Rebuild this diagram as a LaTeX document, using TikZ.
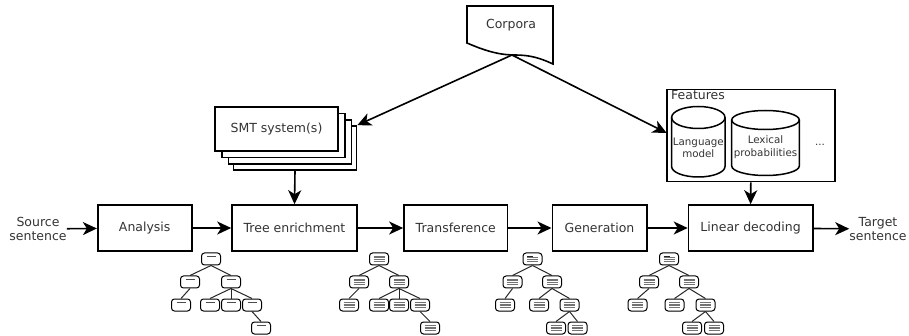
\documentclass[tikz,border=0pt]{standalone}
\usepackage{fontspec}
\setmainfont{DejaVu Sans}
\usetikzlibrary{arrows.meta}

\tikzset{
  box/.style={draw, line width=1.6pt, minimum height=46pt, inner sep=0pt, font=\fontsize{12.5}{14}\selectfont, text=black!80},
  smtbox/.style={draw, line width=1.6pt, fill=white, minimum width=123pt, minimum height=44pt, inner sep=0pt},
  lbl/.style={align=center, inner sep=0pt, font=\fontsize{12.5}{14.5}\selectfont, text=black!80},
  small/.style={align=center, inner sep=0pt, font=\fontsize{10.3}{12.5}\selectfont, text=black!80},
  arr/.style={line width=1.6pt, -{Stealth[length=14pt,width=13pt,inset=4pt]}},
  tedge/.style={line width=1pt, black!85},
  tnode/.style={draw, line width=1pt, rounded corners=3pt, minimum width=19pt, minimum height=12pt, inner sep=0pt, fill=white},
  tblank/.style={tnode, path picture={
    \draw[line width=0.9pt,black!70] ([xshift=5pt,yshift=-3pt]path picture bounding box.north west) -- ([xshift=-5pt,yshift=-3pt]path picture bounding box.north east);}},
  tfull/.style={tnode, path picture={
    \foreach \d in {3.2,5,6.8,8.6}
      \draw[line width=1pt,black!55] ([xshift=4pt,yshift=-\d pt]path picture bounding box.north west) -- ([xshift=-4pt,yshift=-\d pt]path picture bounding box.north east);}},
  tpart/.style={tnode, path picture={
    \draw[line width=1.3pt,black!85] ([xshift=4pt,yshift=-3.2pt]path picture bounding box.north west) -- ([xshift=-9pt,yshift=-3.2pt]path picture bounding box.north east);
    \foreach \d in {5,6.8,8.6}
      \draw[line width=1pt,black!55] ([xshift=4pt,yshift=-\d pt]path picture bounding box.north west) -- ([xshift=-4pt,yshift=-\d pt]path picture bounding box.north east);}}
}

\begin{document}
\begin{tikzpicture}[x=1pt,y=-1pt]
\useasboundingbox (0,0) rectangle (909,336);

\node[lbl] (src) at (38,229) {Source\\sentence};
\node[box, minimum width=94pt] (ana) at (144.7,228) {Analysis};
\node[box, minimum width=125pt] (tre) at (294.5,228) {Tree enrichment};
\node[box, minimum width=103.7pt] (trans) at (455.8,228) {Transference};
\node[box, minimum width=94.4pt] (gen) at (599.5,228) {Generation};
\node[box, minimum width=124.2pt] (lin) at (750.6,228) {Linear decoding};
\node[lbl] (trg) at (878,229) {Target\\sentence};

\draw[arr] (src) -- (ana);
\draw[arr] (ana) -- (tre);
\draw[arr] (tre) -- (trans);
\draw[arr] (trans) -- (gen);
\draw[arr] (gen) -- (lin);
\draw[arr] (lin) -- (trg);

\node[smtbox] (smt4) at (295,148) {};
\node[smtbox] (smt3) at (289.8,141.8) {};
\node[smtbox] (smt2) at (283.2,135.5) {};
\node[smtbox, font=\fontsize{12.5}{14}\selectfont, text=black!80] (smt1) at (276.5,128.8) {SMT system(s)};
\draw[arr] (smt4.south) -- (tre.north);

\draw[line width=1.6pt] (467,6) -- (553,6) -- (553,64)
  .. controls (540,58) and (530,55) .. (515,55)
  .. controls (503,55) and (490,53) .. (467,43) -- cycle;
\node[lbl] (corp) at (511,25) {Corpora};
\coordinate (cp) at (512,55);

\node[draw, line width=1.8pt, minimum width=168pt, minimum height=92pt, inner sep=0pt] (feat) at (750.8,135.5) {};
\node[lbl] (featlbl) at (698,95.5) {Features};
\coordinate (fin) at (666.7,133);

\draw[line width=1.5pt] (698.3,117.5) ellipse [x radius=26.7pt, y radius=11pt];
\draw[line width=1.5pt] (671.6,117.5) -- (671.6,166.5) arc[start angle=180, end angle=360, x radius=26.7pt, y radius=10.5pt] -- (725,117.5);
\draw[line width=1.5pt] (765.5,120) ellipse [x radius=33.8pt, y radius=9.5pt];
\draw[line width=1.5pt] (731.7,120) -- (731.7,166) arc[start angle=180, end angle=360, x radius=33.8pt, y radius=9.5pt] -- (799.3,120);
\node[small] (lm) at (698.3,148) {Language\\model};
\node[small] (lp) at (765.5,147) {Lexical\\probabilities};
\node[small] (more) at (820,145) {...};

\draw[arr] (cp) -- (smt4.north east);
\draw[arr] (cp) -- (fin);
\draw[arr] (feat.south) -- (lin.north);

\node[tblank] (t1r) at (211,259) {};
\node[tblank] (t1a) at (190,282) {};
\node[tblank] (t1b) at (231,282) {};
\node[tblank] (t1aa) at (181,305) {};
\node[tblank] (t1ba) at (210,305) {};
\node[tblank] (t1bb) at (231,305) {};
\node[tblank] (t1bc) at (252,305) {};
\node[tblank] (t1bca) at (261,328) {};
\draw[tedge] (t1r.south) -- (t1a.north);
\draw[tedge] (t1r.south) -- (t1b.north);
\draw[tedge] (t1a.south) -- (t1aa.north);
\draw[tedge] (t1b.south) -- (t1ba.north);
\draw[tedge] (t1b.south) -- (t1bb.north);
\draw[tedge] (t1b.south) -- (t1bc.north);
\draw[tedge] (t1bc.south) -- (t1bca.north);

\node[tfull] (t2r) at (379,259) {};
\node[tfull] (t2a) at (359,282) {};
\node[tfull] (t2b) at (399,282) {};
\node[tfull] (t2aa) at (349,305) {};
\node[tfull] (t2ba) at (379,305) {};
\node[tfull] (t2bb) at (399,305) {};
\node[tfull] (t2bc) at (420,305) {};
\node[tfull] (t2bca) at (430,328) {};
\draw[tedge] (t2r.south) -- (t2a.north);
\draw[tedge] (t2r.south) -- (t2b.north);
\draw[tedge] (t2a.south) -- (t2aa.north);
\draw[tedge] (t2b.south) -- (t2ba.north);
\draw[tedge] (t2b.south) -- (t2bb.north);
\draw[tedge] (t2b.south) -- (t2bc.north);
\draw[tedge] (t2bc.south) -- (t2bca.north);

\node[tpart] (t3r) at (532.5,259) {};
\node[tfull] (t3a) at (512.5,282) {};
\node[tfull] (t3b) at (552,282) {};
\node[tfull] (t3aa) at (505,305) {};
\node[tfull] (t3ba) at (539,305) {};
\node[tfull] (t3bb) at (569.5,305) {};
\node[tfull] (t3bba) at (556,328) {};
\node[tfull] (t3bbb) at (577.5,328) {};
\draw[tedge] (t3r.south) -- (t3a.north);
\draw[tedge] (t3r.south) -- (t3b.north);
\draw[tedge] (t3a.south) -- (t3aa.north);
\draw[tedge] (t3b.south) -- (t3ba.north);
\draw[tedge] (t3b.south) -- (t3bb.north);
\draw[tedge] (t3bb.south) -- (t3bba.north);
\draw[tedge] (t3bb.south) -- (t3bbb.north);

\node[tpart] (t4r) at (669,259) {};
\node[tfull] (t4a) at (649,282) {};
\node[tfull] (t4b) at (689,282) {};
\node[tfull] (t4aa) at (637.5,305) {};
\node[tfull] (t4ba) at (674.5,305) {};
\node[tfull] (t4bb) at (705.5,305) {};
\node[tfull] (t4bba) at (692,328) {};
\node[tfull] (t4bbb) at (714,328) {};
\draw[tedge] (t4r.south) -- (t4a.north);
\draw[tedge] (t4r.south) -- (t4b.north);
\draw[tedge] (t4a.south) -- (t4aa.north);
\draw[tedge] (t4b.south) -- (t4ba.north);
\draw[tedge] (t4b.south) -- (t4bb.north);
\draw[tedge] (t4bb.south) -- (t4bba.north);
\draw[tedge] (t4bb.south) -- (t4bbb.north);
\end{tikzpicture}
\end{document}
